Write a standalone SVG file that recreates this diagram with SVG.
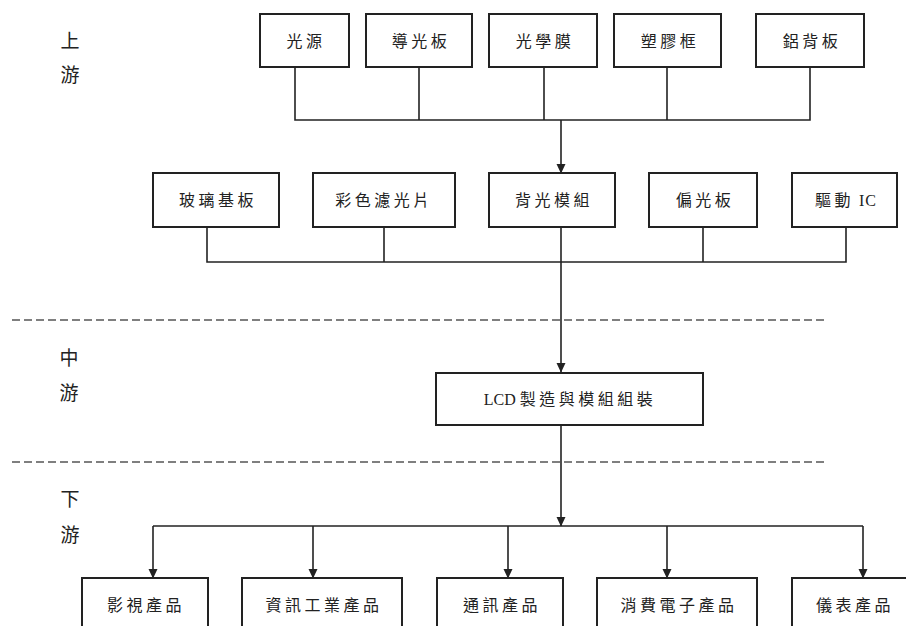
<svg xmlns="http://www.w3.org/2000/svg" width="906" height="626" viewBox="0 0 906 626">
<style>
.box{fill:#fff;stroke:#222;stroke-width:2}
.t{font-family:"Liberation Serif","Noto Sans CJK TC",serif;font-size:16px;fill:#222;text-anchor:middle;dominant-baseline:central;letter-spacing:3.5px}
.side{font-family:"Noto Sans CJK TC",sans-serif;font-size:19px;fill:#222;text-anchor:middle;dominant-baseline:central}
.ln{fill:none;stroke:#222;stroke-width:1.6}
.dash{fill:none;stroke:#555;stroke-width:1.6;stroke-dasharray:8 4}
</style>
<defs>
<marker id="ah" markerWidth="10" markerHeight="10" refX="9" refY="5" orient="auto" markerUnits="userSpaceOnUse">
<path d="M0,0.5 L9.5,5 L0,9.5 Z" fill="#222"/>
</marker>
</defs>
<rect width="906" height="626" fill="#fff"/>

<g id="labels">
<text class="side" x="70" y="39">上</text>
<text class="side" x="70" y="73">游</text>
<text class="side" x="69" y="356">中</text>
<text class="side" x="69" y="391">游</text>
<text class="side" x="70" y="497">下</text>
<text class="side" x="70" y="533">游</text>
</g>

<g id="dividers">
<line class="dash" x1="12" y1="320" x2="827" y2="320"/>
<line class="dash" x1="12" y1="462" x2="827" y2="462"/>
</g>

<g id="connectors">
<path class="ln" d="M295,67 V120 H810 V67 M419,67 V120 M544,67 V120 M667,67 V120"/>
<path class="ln" d="M561,120 V173" marker-end="url(#ah)"/>
<path class="ln" d="M207,227 V262 H846 V227 M384,227 V262 M703,227 V262"/>
<path class="ln" d="M561,227 V372" marker-end="url(#ah)"/>
<path class="ln" d="M561,425 V526" marker-end="url(#ah)"/>
<path class="ln" d="M153,526 H863"/>
<path class="ln" d="M153,526 V578" marker-end="url(#ah)"/>
<path class="ln" d="M313,526 V578" marker-end="url(#ah)"/>
<path class="ln" d="M508,526 V578" marker-end="url(#ah)"/>
<path class="ln" d="M667,526 V578" marker-end="url(#ah)"/>
<path class="ln" d="M863,526 V578" marker-end="url(#ah)"/>
</g>

<g id="n-guangyuan"><rect class="box" x="260" y="14" width="89" height="53"/><text class="t" x="306" y="41">光源</text></g>
<g id="n-daoguangban"><rect class="box" x="366" y="14" width="106" height="53"/><text class="t" x="421" y="41">導光板</text></g>
<g id="n-guangxuemo"><rect class="box" x="489" y="14" width="108" height="53"/><text class="t" x="545" y="41">光學膜</text></g>
<g id="n-sujiaokuang"><rect class="box" x="614" y="14" width="107" height="53"/><text class="t" x="670" y="41">塑膠框</text></g>
<g id="n-lvbeiban"><rect class="box" x="756" y="14" width="108" height="53"/><text class="t" x="812" y="41">鋁背板</text></g>

<g id="n-boli"><rect class="box" x="153" y="173" width="126" height="54"/><text class="t" x="218" y="200">玻璃基板</text></g>
<g id="n-caise"><rect class="box" x="313" y="173" width="142" height="54"/><text class="t" x="384" y="200">彩色濾光片</text></g>
<g id="n-beiguang"><rect class="box" x="489" y="173" width="126" height="54"/><text class="t" x="554" y="200">背光模組</text></g>
<g id="n-pianguang"><rect class="box" x="649" y="173" width="108" height="54"/><text class="t" x="705" y="200">偏光板</text></g>
<g id="n-qudong"><rect class="box" x="792" y="173" width="105" height="54"/><text class="t" x="846" y="200">驅動<tspan style="letter-spacing:1px"> IC</tspan></text></g>

<g id="n-lcd"><rect class="box" x="436" y="373" width="267" height="52"/><text class="t" x="570" y="399"><tspan style="letter-spacing:0">LCD </tspan>製造與模組組裝</text></g>

<g id="n-yingshi"><rect class="box" x="82" y="578" width="126" height="70"/><text class="t" x="146" y="605">影視產品</text></g>
<g id="n-zixun"><rect class="box" x="242" y="578" width="160" height="70"/><text class="t" x="324" y="605">資訊工業產品</text></g>
<g id="n-tongxun"><rect class="box" x="437" y="578" width="126" height="70"/><text class="t" x="502" y="605">通訊產品</text></g>
<g id="n-xiaofei"><rect class="box" x="597" y="578" width="160" height="70"/><text class="t" x="679" y="605">消費電子產品</text></g>
<g id="n-yibiao"><rect class="box" x="792" y="578" width="140" height="70"/><text class="t" x="855" y="605">儀表產品</text></g>
</svg>
